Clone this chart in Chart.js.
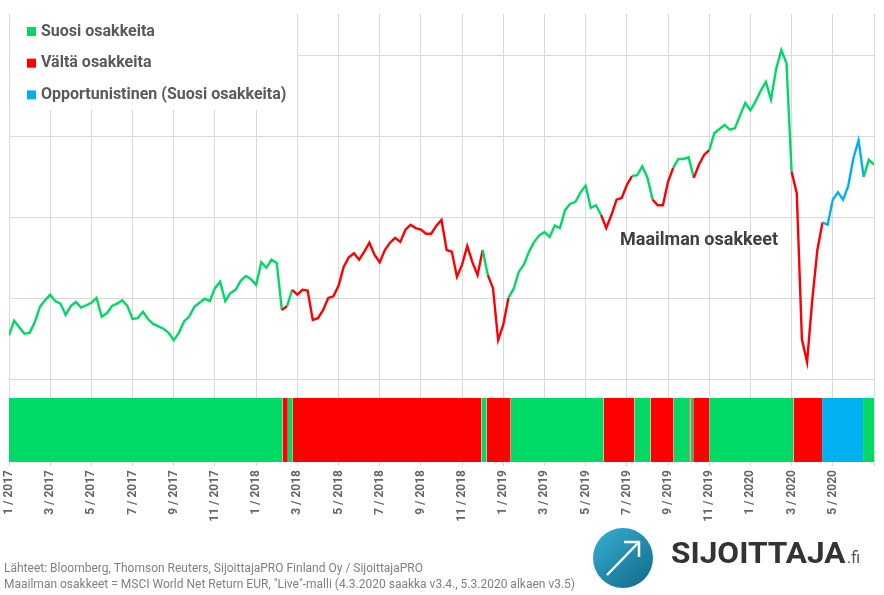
<!DOCTYPE html>
<html>
<head>
<meta charset="utf-8">
<script src="https://cdn.jsdelivr.net/npm/chart.js@4.4.1/dist/chart.umd.min.js"></script>
<style>
  html, body { margin: 0; padding: 0; background: #fff; }
  #kaavio { display: block; }
</style>
</head>
<body>
<canvas id="kaavio" width="884" height="595"></canvas>
<script>
// Maailman osakkeet, viikoittain (4 arvoa / kk, alkaen 1/2017)
const osakkeet = [
  105.5, 107.3, 106.5, 105.7, 105.8, 107.1, 109.0, 109.8, 110.5, 109.7,
  109.4, 108.0, 109.1, 109.6, 108.9, 109.2, 109.5, 110.1, 107.8, 108.2,
  109.1, 109.4, 109.8, 109.1, 107.5, 107.6, 108.4, 107.5, 106.9, 106.6,
  106.3, 105.8, 104.9, 105.8, 107.2, 107.8, 109.0, 109.5, 110.0, 109.7,
  111.3, 112.1, 109.7, 110.7, 111.1, 112.2, 112.8, 112.4, 111.7, 114.5,
  113.8, 114.8, 114.4, 108.6, 109.1, 111.1, 110.5, 111.1, 111.0, 107.4,
  107.6, 108.6, 110.1, 110.3, 111.6, 113.9, 115.1, 115.6, 114.8, 115.8,
  116.9, 115.4, 114.5, 116.0, 116.9, 117.5, 117.0, 118.5, 119.1, 118.7,
  118.5, 118.0, 118.0, 119.0, 119.7, 116.0, 115.8, 112.7, 114.2, 116.5,
  114.5, 112.9, 116.0, 112.9, 111.3, 104.9, 106.8, 110.1, 111.2, 113.3,
  114.2, 115.8, 117.0, 117.8, 118.2, 117.6, 119.0, 118.7, 120.9, 121.7,
  121.9, 123.1, 123.9, 121.2, 121.5, 120.3, 118.7, 120.3, 122.2, 122.4,
  124.0, 125.1, 125.2, 126.3, 124.9, 122.2, 121.5, 121.5, 124.4, 126.1,
  127.2, 127.2, 127.4, 124.9, 126.5, 127.7, 128.3, 130.4, 130.9, 131.4,
  130.8, 131.0, 132.6, 134.1, 133.2, 134.3, 135.6, 136.7, 134.5, 138.3,
  140.6, 139.0, 125.6, 123.0, 105.0, 102.2, 109.8, 116.0, 119.4, 119.1,
  122.2, 123.1, 122.2, 123.9, 127.3, 129.5, 125.0, 127.1, 126.5
];

// Signaalijaksot: alku kuukausina 1/2017 alkaen ja tila
const jaksoAlku = [0, 13.29, 13.54, 13.78, 22.94, 23.19, 24.36, 28.87, 30.37, 31.15,
  32.27, 33.03, 33.09, 33.22, 34.0, 38.09, 39.48, 41.47];
const jaksoTila = ['suosi', 'valta', 'suosi', 'valta', 'suosi', 'valta', 'suosi', 'valta', 'suosi', 'valta',
  'suosi', 'valta', 'suosi', 'valta', 'suosi', 'valta', 'opp', 'suosi'];
const loppuKk = 42;

const tilaNimet = ['Suosi osakkeita', 'Vältä osakkeita', 'Opportunistinen (Suosi osakkeita)'];
const varit = { suosi: '#00d966', valta: '#ff0000', opp: '#00b0f0' };

const yMin = 89.9;
const yMax = 145.05;
const palkkiYla = 97.78;

function tilaKohdassa(kk) {
  let tila = jaksoTila[0];
  for (let i = 0; i < jaksoAlku.length; i++) {
    if (kk >= jaksoAlku[i]) tila = jaksoTila[i];
  }
  return tila;
}

const palkit = jaksoAlku.map((alku, i) => ({
  type: 'line',
  data: [{ x: alku, y: palkkiYla }, { x: i < jaksoAlku.length - 1 ? jaksoAlku[i + 1] : loppuKk, y: palkkiYla }],
  borderWidth: 0,
  pointRadius: 0,
  fill: { value: yMin },
  backgroundColor: varit[jaksoTila[i]],
  order: 2
}));

const piirrot = {
  id: 'piirrot',
  beforeDatasetsDraw(chart) {
    const ctx = chart.ctx;
    ctx.save();
    ctx.fillStyle = '#fff';
    ctx.fillRect(10, 0, 287, 110);
    ctx.restore();
  },
  afterDraw(chart) {
    const ctx = chart.ctx;
    ctx.save();
    ctx.textAlign = 'left';

    // selite
    const tilat = ['suosi', 'valta', 'opp'];
    ctx.font = 'bold 16px Roboto';
    ctx.textBaseline = 'middle';
    tilat.forEach((t, i) => {
      const y = 31 + i * 31.7;
      ctx.fillStyle = varit[t];
      ctx.fillRect(27, y - 4, 9, 9);
      ctx.fillStyle = '#595959';
      ctx.fillText(tilaNimet[i], 41, y + 0.5);
    });

    ctx.textBaseline = 'alphabetic';
    ctx.font = 'bold 18px Roboto';
    ctx.fillStyle = '#404040';
    ctx.fillText('Maailman osakkeet', 620, 245);

    // lähteet
    ctx.font = '12px Roboto';
    ctx.fillStyle = '#808080';
    ctx.fillText('Lähteet: Bloomberg, Thomson Reuters, SijoittajaPRO Finland Oy / SijoittajaPRO', 4, 572, 428);
    ctx.fillText('Maailman osakkeet = MSCI World Net Return EUR, "Live"-malli (4.3.2020 saakka v3.4., 5.3.2020 alkaen v3.5)', 4, 588, 578);

    // logo
    const g = ctx.createLinearGradient(600, 530, 648, 588);
    g.addColorStop(0, '#33abcf');
    g.addColorStop(1, '#136b8a');
    ctx.fillStyle = g;
    ctx.beginPath();
    ctx.arc(623, 558, 30, 0, Math.PI * 2);
    ctx.fill();
    ctx.strokeStyle = '#fff';
    ctx.lineWidth = 2.5;
    ctx.beginPath();
    ctx.moveTo(607, 575);
    ctx.lineTo(638, 543);
    ctx.moveTo(624, 542);
    ctx.lineTo(639, 542);
    ctx.lineTo(639, 557);
    ctx.stroke();

    ctx.font = 'bold 29px Roboto';
    ctx.fillStyle = '#333';
    const teksti = 'SIJOITTAJA';
    const m = ctx.measureText(teksti);
    const w = m.actualBoundingBoxRight || m.width;
    const leveys = 175;
    ctx.save();
    ctx.translate(671, 563);
    ctx.scale(leveys / w, 1);
    ctx.fillText(teksti, 0, 0);
    ctx.restore();
    ctx.font = '16px Roboto';
    ctx.fillStyle = '#555';
    ctx.fillText('.fi', 671 + leveys + 1, 563);

    ctx.restore();
  }
};

new Chart(document.getElementById('kaavio').getContext('2d'), {
  type: 'line',
  data: {
    datasets: [
      {
        label: 'Maailman osakkeet',
        data: osakkeet.map((v, i) => ({ x: i / 4, y: v })),
        borderWidth: 2.4,
        pointRadius: 0,
        tension: 0,
        fill: false,
        borderColor: varit.suosi,
        segment: {
          borderColor: c => varit[tilaKohdassa((c.p0.parsed.x + c.p1.parsed.x) / 2)]
        },
        order: 1
      },
      ...palkit
    ]
  },
  options: {
    responsive: false,
    animation: false,
    layout: { padding: { left: 9, right: 10, top: 14, bottom: 63 } },
    plugins: {
      legend: { display: false },
      tooltip: { enabled: false }
    },
    scales: {
      x: {
        type: 'linear',
        min: 0,
        max: loppuKk,
        afterFit: s => {
          s.height = 70;
          s.paddingLeft = 0;
          s.paddingRight = 0;
        },
        border: { display: false },
        grid: { color: '#d9d9d9', lineWidth: 1, tickLength: 4 },
        ticks: {
          stepSize: 2,
          autoSkip: false,
          minRotation: 90,
          maxRotation: 90,
          padding: 4,
          color: '#666',
          font: { family: 'Roboto', weight: 'bold', size: 12 },
          callback: v => {
            if (v >= loppuKk) return '';
            return (v % 12 + 1) + ' / ' + (2017 + Math.floor(v / 12));
          }
        }
      },
      y: {
        min: yMin,
        max: yMax,
        afterFit: s => { s.width = 0; },
        border: { display: false },
        grid: {
          drawTicks: false,
          color: c => (c.tick && c.tick.value >= 100 && c.tick.value <= 140 && c.tick.value % 10 === 0) ? '#d9d9d9' : 'rgba(0,0,0,0)'
        },
        ticks: { display: false, stepSize: 10 }
      }
    }
  },
  plugins: [piirrot]
});
</script>
</body>
</html>
